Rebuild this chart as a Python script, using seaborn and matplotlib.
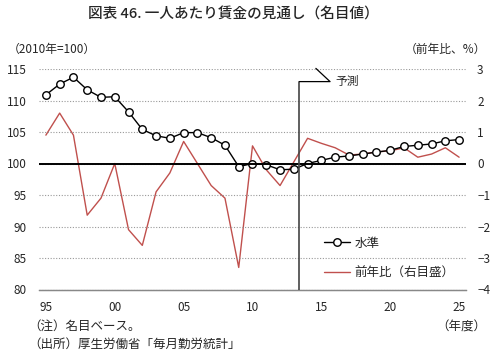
import matplotlib
matplotlib.use('Agg')
import matplotlib.pyplot as plt
import seaborn as sns
import numpy as np

# data
years = list(range(1995, 2026))
level = [110.9, 112.6, 113.7, 111.7, 110.5, 110.6, 108.2, 105.4, 104.4, 104.0,
         104.9, 104.9, 104.1, 102.9, 99.5, 100.0, 99.8, 99.0, 99.1, 100.0,
         100.5, 101.0, 101.2, 101.5, 101.8, 102.1, 102.7, 102.9, 103.1, 103.6, 103.8]
yoy = [0.9, 1.6, 0.9, -1.64, -1.1, 0.0, -2.1, -2.6, -0.9, -0.3,
       0.7, 0.0, -0.7, -1.1, -3.3, 0.56, -0.2, -0.7, 0.05, 0.8,
       0.64, 0.5, 0.27, 0.3, 0.37, 0.4, 0.5, 0.2, 0.3, 0.5, 0.2]
xtick_years = [1995, 2000, 2005, 2010, 2015, 2020, 2025]
xtick_labels = ['95', '00', '05', '10', '15', '20', '25']
forecast_start = 2013.4

sns.set_style('white')
plt.rcParams['font.family'] = ['Noto Sans CJK JP', 'DejaVu Sans']

fig = plt.figure(figsize=(4.99, 3.56), dpi=100)
ax = fig.add_axes([39/499, 1-289.5/356, 427/499, 220.5/356])
ax2 = ax.twinx()

red = '#C0504D'
sns.lineplot(x=years, y=yoy, ax=ax2, color=red, linewidth=1.0, label='前年比（右目盛）')
sns.lineplot(x=years, y=level, ax=ax, color='black', linewidth=1.0, marker='o',
             markersize=5.4, markerfacecolor='white', markeredgecolor='black',
             markeredgewidth=1.0, label='水準')

# level series on top of the yoy series
ax.set_zorder(ax2.get_zorder() + 1)
ax.patch.set_visible(False)

ax.set_xlim(1994.5, 2025.5)
ax.set_ylim(80, 115)
ax2.set_ylim(-4, 3)
ax.set_yticks(np.arange(80, 116, 5))
ax2.set_yticks(np.arange(-4, 4, 1))

ax.yaxis.grid(True, linestyle=(0, (1, 1.5)), color='#999999', linewidth=0.8)
ax.xaxis.grid(False)
ax2.grid(False)
ax.axhline(100, color='black', linewidth=1.4, zorder=3)

for a in (ax, ax2):
    for s in ('top', 'left', 'right'):
        a.spines[s].set_visible(False)
    a.spines['bottom'].set_color('#888888')
    a.spines['bottom'].set_linewidth(0.9)

ax.set_xticks(xtick_years)
ax.set_xticklabels(xtick_labels)
ax.set_xticks(np.arange(1994.5, 2026, 1), minor=True)
ax.tick_params(axis='x', which='major', length=0, pad=8, labelsize=8.5)
ax.tick_params(axis='x', which='minor', length=4, width=0.8, color='#888888', direction='out')
ax.tick_params(axis='y', length=0, pad=9, labelsize=8.5)
ax2.tick_params(axis='y', length=0, pad=8, labelsize=8.5)
ax.set_xlabel('')
ax.set_ylabel('')
ax2.set_ylabel('')

# forecast marker
ax.plot([forecast_start, forecast_start], [80, 113.0], color='#444444', linewidth=1.2, zorder=4)
ax.plot([forecast_start, 2015.63, 2014.6], [113.0, 113.0, 115.1], color='black',
        linewidth=0.9, clip_on=False, zorder=4)
ax.text(2016.0, 113.0, '予測', fontsize=8.5, va='center', ha='left')

# legend
h1, l1 = ax.get_legend_handles_labels()
h2, l2 = ax2.get_legend_handles_labels()
if ax2.get_legend():
    ax2.get_legend().remove()
ax.legend(h1 + h2, l1 + l2, loc='center left', bbox_to_anchor=(0.667, 0.143),
          frameon=False, fontsize=9, handlelength=2.1, handletextpad=0.35,
          labelspacing=1.35, borderpad=0, borderaxespad=0)

fig.text(233/499, 1-15/356, '図表 46. 一人あたり賃金の見通し（名目値）', ha='center', va='center',
         fontsize=10.5, fontweight='medium')
fig.text(8/499, 1-49/356, '（2010年=100）', ha='left', va='center', fontsize=8.5)
fig.text(486/499, 1-49/356, '（前年比、%）', ha='right', va='center', fontsize=8.5)
fig.text(28/499, 1-326/356, '（注）名目ベース。', ha='left', va='center', fontsize=9)
fig.text(28/499, 1-344/356, '（出所）厚生労働省「毎月勤労統計」', ha='left', va='center', fontsize=9)
fig.text(486/499, 1-327/356, '（年度）', ha='right', va='center', fontsize=9)

fig.savefig('out.png', dpi=100)
